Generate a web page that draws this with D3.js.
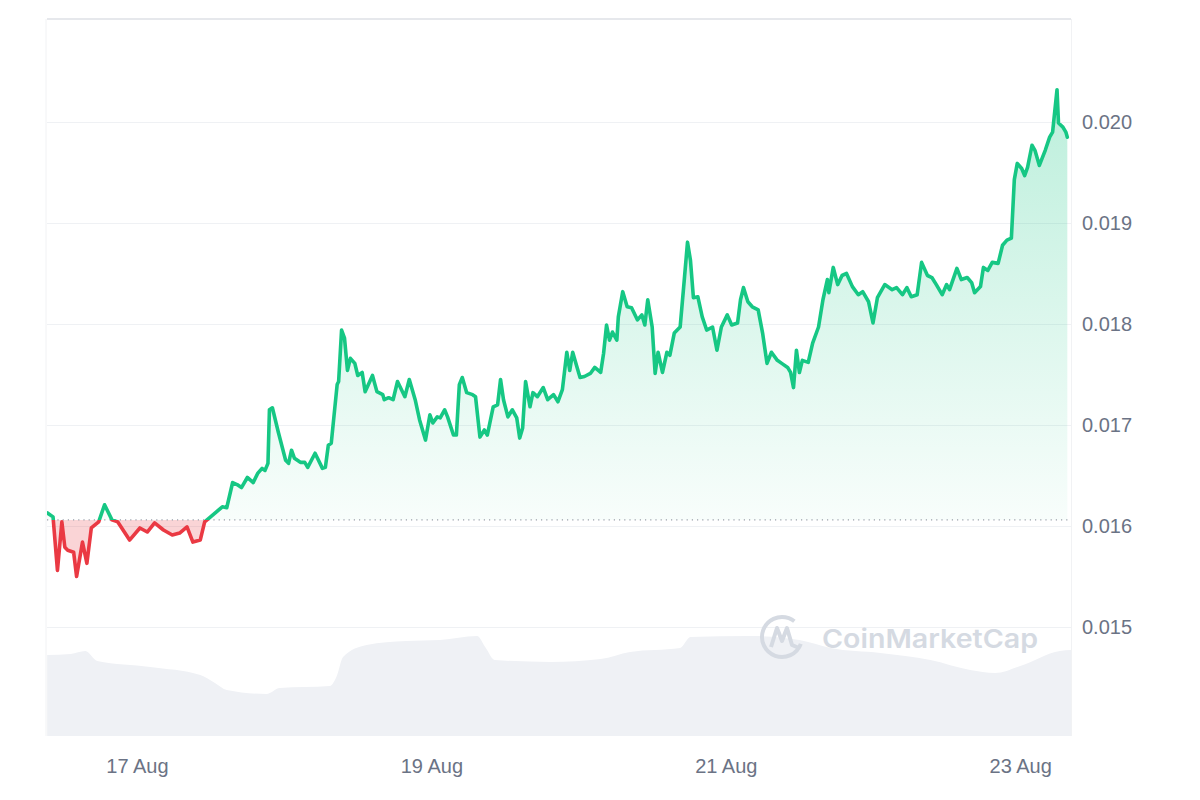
<!DOCTYPE html>
<html>
<head>
<meta charset="utf-8">
<script src="https://cdn.jsdelivr.net/npm/d3@7"></script>
<style>
  body { margin: 0; background: #ffffff; }
  svg text { font-family: "Liberation Sans", Arial, sans-serif; }
</style>
</head>
<body>
<svg id="price_svg" width="1200" height="800"></svg>
<script>
// [day of August 2023 (fractional), price in USD]
const pricePoints = [
  [16.39,0.01613],[16.43,0.01609],[16.46,0.01556],[16.49,0.01604],[16.51,0.01579],[16.53,0.01576],
  [16.57,0.01574],[16.59,0.01550],[16.63,0.01584],[16.66,0.01563],[16.69,0.01598],[16.74,0.01604],
  [16.78,0.01621],[16.83,0.01606],[16.87,0.01604],[16.95,0.01586],[17.02,0.01598],[17.07,0.01594],
  [17.12,0.01603],[17.18,0.01596],[17.24,0.01591],[17.29,0.01593],[17.34,0.01599],[17.38,0.01584],
  [17.43,0.01586],[17.46,0.01604],[17.50,0.01609],[17.54,0.01614],[17.58,0.01619],[17.61,0.01618],
  [17.65,0.01643],[17.68,0.01641],[17.71,0.01638],[17.75,0.01648],[17.79,0.01643],[17.82,0.01652],
  [17.85,0.01657],[17.87,0.01655],[17.89,0.01662],[17.90,0.01715],[17.92,0.01717],[17.96,0.01693],
  [18.01,0.01665],[18.03,0.01662],[18.05,0.01675],[18.07,0.01667],[18.11,0.01663],[18.14,0.01663],
  [18.16,0.01658],[18.21,0.01672],[18.26,0.01657],[18.28,0.01658],[18.30,0.01680],[18.32,0.01682],
  [18.36,0.01740],[18.37,0.01743],[18.39,0.01794],[18.41,0.01786],[18.43,0.01754],[18.45,0.01766],
  [18.48,0.01761],[18.50,0.01749],[18.53,0.01752],[18.55,0.01733],[18.60,0.01749],[18.63,0.01733],
  [18.67,0.01730],[18.68,0.01725],[18.71,0.01727],[18.74,0.01725],[18.77,0.01743],[18.82,0.01728],
  [18.85,0.01745],[18.89,0.01725],[18.92,0.01705],[18.96,0.01685],[18.99,0.01710],[19.01,0.01702],
  [19.04,0.01708],[19.06,0.01707],[19.09,0.01715],[19.11,0.01708],[19.15,0.01690],[19.17,0.01690],
  [19.19,0.01740],[19.21,0.01747],[19.24,0.01732],[19.28,0.01730],[19.30,0.01728],[19.33,0.01688],
  [19.36,0.01695],[19.38,0.01690],[19.42,0.01718],[19.45,0.01720],[19.47,0.01745],[19.49,0.01725],
  [19.52,0.01708],[19.55,0.01715],[19.58,0.01707],[19.60,0.01687],[19.62,0.01697],[19.64,0.01743],
  [19.67,0.01718],[19.69,0.01732],[19.72,0.01728],[19.76,0.01737],[19.79,0.01725],[19.83,0.01730],
  [19.86,0.01723],[19.89,0.01735],[19.92,0.01772],[19.94,0.01754],[19.96,0.01772],[19.99,0.01757],
  [20.01,0.01747],[20.04,0.01748],[20.08,0.01751],[20.11,0.01757],[20.15,0.01752],[20.17,0.01771],
  [20.19,0.01799],[20.21,0.01784],[20.23,0.01792],[20.26,0.01784],[20.27,0.01807],[20.30,0.01832],
  [20.33,0.01817],[20.36,0.01816],[20.40,0.01804],[20.43,0.01809],[20.45,0.01799],[20.47,0.01824],
  [20.50,0.01797],[20.52,0.01751],[20.54,0.01772],[20.57,0.01752],[20.60,0.01772],[20.62,0.01769],
  [20.65,0.01791],[20.69,0.01797],[20.72,0.01847],[20.74,0.01881],[20.76,0.01863],[20.78,0.01826],
  [20.81,0.01827],[20.84,0.01807],[20.87,0.01794],[20.91,0.01797],[20.94,0.01774],[20.97,0.01797],
  [21.01,0.01809],[21.04,0.01799],[21.08,0.01801],[21.10,0.01824],[21.12,0.01836],[21.15,0.01822],
  [21.18,0.01817],[21.22,0.01814],[21.25,0.01791],[21.28,0.01761],[21.31,0.01772],[21.35,0.01764],
  [21.38,0.01761],[21.42,0.01757],[21.44,0.01752],[21.46,0.01737],[21.48,0.01774],[21.50,0.01752],
  [21.52,0.01764],[21.56,0.01762],[21.59,0.01781],[21.63,0.01797],[21.66,0.01824],[21.69,0.01844],
  [21.70,0.01831],[21.73,0.01856],[21.76,0.01839],[21.79,0.01848],[21.82,0.01850],[21.86,0.01837],
  [21.90,0.01829],[21.93,0.01832],[21.97,0.01822],[22.00,0.01801],[22.03,0.01826],[22.08,0.01839],
  [22.13,0.01834],[22.16,0.01836],[22.20,0.01829],[22.23,0.01836],[22.26,0.01827],[22.30,0.01829],
  [22.33,0.01861],[22.37,0.01848],[22.40,0.01846],[22.43,0.01839],[22.47,0.01829],[22.50,0.01839],
  [22.52,0.01834],[22.57,0.01855],[22.60,0.01844],[22.64,0.01846],[22.67,0.01841],[22.69,0.01831],
  [22.73,0.01837],[22.75,0.01856],[22.78,0.01853],[22.81,0.01861],[22.85,0.01860],[22.88,0.01878],
  [22.91,0.01883],[22.94,0.01885],[22.96,0.01943],[22.98,0.01959],[23.01,0.01954],[23.03,0.01947],
  [23.05,0.01955],[23.08,0.01977],[23.10,0.01972],[23.13,0.01957],[23.17,0.01972],[23.20,0.01985],
  [23.22,0.01990],[23.25,0.02032],[23.26,0.01999],[23.29,0.01995],[23.31,0.01990],[23.32,0.01985]
];

// [day of August 2023, 24h volume in $M (relative)]
const volumePoints = [
  [16.39,8.1],[16.55,8.2],[16.65,8.5],[16.73,7.5],[17.09,6.9],[17.43,6.1],[17.53,5.3],[17.61,4.6],
  [17.88,4.2],[17.97,4.8],[18.31,5.0],[18.36,6.1],[18.40,7.9],[18.56,9.1],[18.83,9.5],[19.06,9.6],
  [19.31,10.0],[19.37,8.8],[19.43,7.6],[19.81,7.4],[20.15,7.7],[20.35,8.4],[20.69,8.8],[20.76,9.9],
  [21.16,10.0],[21.50,9.6],[21.71,8.8],[22.05,8.3],[22.39,7.6],[22.66,6.6],[22.83,6.3],[23.00,7.0],
  [23.27,8.5],[23.345,8.6]
];

const openPrice = 0.01606;
const priceTicks = [0.015, 0.016, 0.017, 0.018, 0.019, 0.020];
const dayTicks = [17, 19, 21, 23];
const dayRange = [16.389, 23.345];
const priceRange = [0.01392, 0.02102];
const volumeMax = 10;

(function () {
    var toDate = d => new Date(new Date(2023, 7, 1).getTime() + (d - 1) * 864e5);
    var prices = pricePoints.map(p => ({ date: toDate(p[0]), price: p[1] }));
    var volumes = volumePoints.map(p => ({ date: toDate(p[0]), vol: p[1] }));

    var svg = d3.select("svg#price_svg"),
        left = 47, right = 1071, top = 19, bottom = 736;

    var x = d3.scaleTime().domain(dayRange.map(toDate)).range([left, right]);
    var y = d3.scaleLinear().domain(priceRange).range([bottom, top]);
    var v = d3.scaleLinear().domain([0, volumeMax]).range([bottom, 636]);
    var base = y(openPrice);

    var defs = svg.append("defs");
    var grad = defs.append("linearGradient").attr("id", "green_fill").
        attr("gradientUnits", "userSpaceOnUse").
        attr("x1", 0).attr("x2", 0).attr("y1", y(0.0205)).attr("y2", base);
    grad.append("stop").attr("offset", 0).attr("stop-color", "#16c784").attr("stop-opacity", 0.3);
    grad.append("stop").attr("offset", 1).attr("stop-color", "#16c784").attr("stop-opacity", 0.03);
    defs.append("clipPath").attr("id", "clip_up").append("rect").
        attr("x", left).attr("y", top).attr("width", right - left).attr("height", base - top);
    defs.append("clipPath").attr("id", "clip_down").append("rect").
        attr("x", left).attr("y", base).attr("width", right - left).attr("height", bottom - base);

    // volume underlay
    svg.append("path").datum(volumes).
        attr("fill", "#eff1f5").
        attr("d", d3.area().x(d => x(d.date)).y0(bottom).y1(d => v(d.vol)).curve(d3.curveMonotoneX));

    // frame
    svg.append("line").attr("x1", left).attr("x2", right).attr("y1", top).attr("y2", top).
        attr("stroke", "#e6e8ec").attr("stroke-width", 2);
    svg.append("line").attr("x1", left - 1).attr("x2", left - 1).attr("y1", top).attr("y2", bottom).
        attr("stroke", "#f1f2f4");
    svg.append("line").attr("x1", right + 0.5).attr("x2", right + 0.5).attr("y1", top).attr("y2", bottom).
        attr("stroke", "#f1f2f4");

    // grid
    svg.append("g").selectAll("line").data(priceTicks).join("line").
        attr("x1", left).attr("x2", right).
        attr("y1", d => Math.round(y(d)) + 0.5).attr("y2", d => Math.round(y(d)) + 0.5).
        attr("stroke", "#eff1f4");

    // watermark
    var wm = svg.append("g").attr("fill", "none").attr("stroke", "#d5dae2");
    wm.append("circle").attr("cx", 782).attr("cy", 637).attr("r", 20).
        attr("stroke-width", 4).attr("stroke-dasharray", "100 26").
        attr("transform", "rotate(20 782 637)");
    wm.append("path").attr("stroke-width", 4).attr("stroke-linejoin", "round").
        attr("d", "M771,647 L777,628 L782,641 L787,628 L792,645 L799,648");
    svg.append("text").attr("x", 822).attr("y", 648).
        attr("textLength", 216).attr("lengthAdjust", "spacingAndGlyphs").
        style("font-family", "Inter, sans-serif").style("font-weight", 600).
        style("font-size", "26px").attr("fill", "#d5dae2").text("CoinMarketCap");

    var area = d3.area().x(d => x(d.date)).y0(base).y1(d => y(d.price));
    var line = d3.line().x(d => x(d.date)).y(d => y(d.price));

    svg.append("path").datum(prices).attr("clip-path", "url(#clip_up)").
        attr("fill", "url(#green_fill)").attr("d", area);
    svg.append("path").datum(prices).attr("clip-path", "url(#clip_down)").
        attr("fill", "#ea3943").attr("fill-opacity", 0.22).attr("d", area);

    // reference (open) price
    svg.append("line").attr("x1", left).attr("x2", right).attr("y1", base).attr("y2", base).
        attr("stroke", "#9aa0aa").attr("stroke-width", 1.2).attr("stroke-dasharray", "1.2 4");

    svg.append("path").datum(prices).attr("clip-path", "url(#clip_up)").
        attr("fill", "none").attr("stroke", "#16c784").attr("stroke-width", 3.6).
        attr("stroke-linejoin", "round").attr("stroke-linecap", "round").attr("d", line);
    svg.append("path").datum(prices).attr("clip-path", "url(#clip_down)").
        attr("fill", "none").attr("stroke", "#ea3943").attr("stroke-width", 3.6).
        attr("stroke-linejoin", "round").attr("stroke-linecap", "round").attr("d", line);

    // axes
    var yAxis = svg.append("g").attr("transform", "translate(" + right + ",0)").
        call(d3.axisRight(y).tickValues(priceTicks).tickFormat(d3.format(".3f")).
             tickSize(0).tickPadding(11));
    var xAxis = svg.append("g").attr("transform", "translate(0," + bottom + ")").
        call(d3.axisBottom(x).tickValues(dayTicks.map(toDate)).
             tickFormat(d3.timeFormat("%-d %b")).tickSize(0).tickPadding(23));
    [yAxis, xAxis].forEach(function (g) {
        g.select(".domain").remove();
        g.selectAll("text").attr("fill", "#6b7385").
            style("font-family", "'Liberation Sans', Arial, sans-serif").style("font-size", "20px");
    });
})();
</script>
</body>
</html>
